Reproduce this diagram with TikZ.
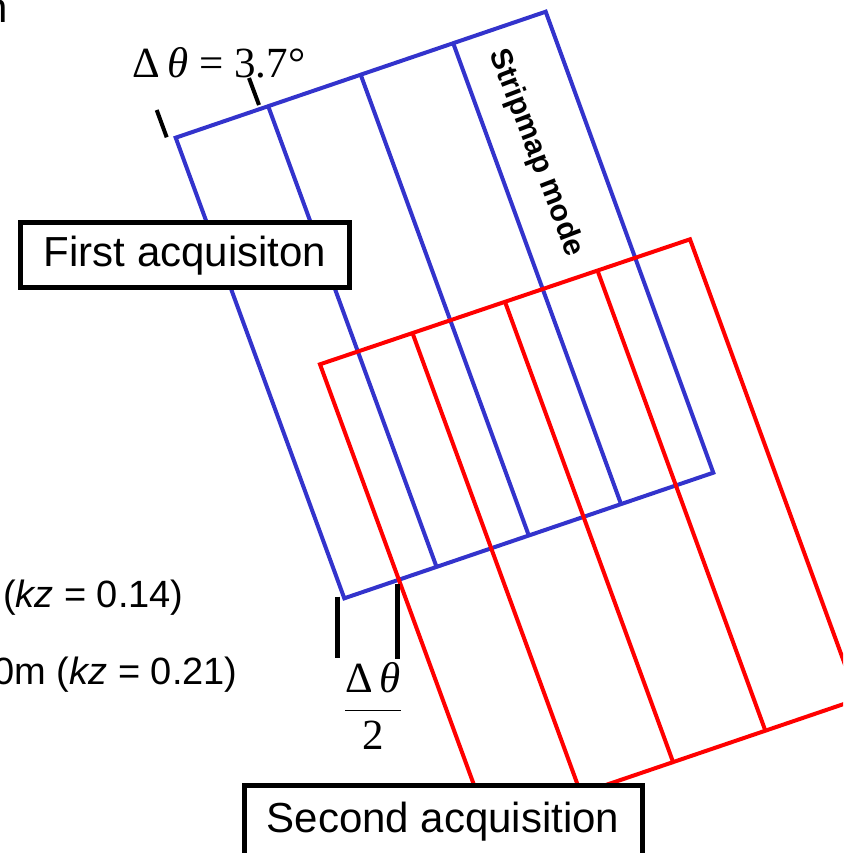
\documentclass[tikz,border=0pt]{standalone}
\usepackage{amsmath}
\usepackage{fontspec}
\setmainfont{Liberation Sans}
\newfontfamily\eqfont{Liberation Serif}
\usepackage{xcolor}
\usepackage{tikz}
\usetikzlibrary{calc}

\definecolor{stripblue}{RGB}{51,51,204}
\definecolor{stripred}{RGB}{255,0,0}

\tikzset{
  bluestrip/.style={stripblue, line width=2pt},
  redstrip/.style={stripred, line width=2pt},
  angletick/.style={black, line width=2pt},
  labelbox/.style={white, draw=black, line width=2.5pt},
  boxtext/.style={font=\fontsize{21}{25}\selectfont},
  eqtext/.style={font=\eqfont\fontsize{21.5}{25}\selectfont},
  kztext/.style={anchor=east, inner sep=0, font=\fontsize{19}{23}\selectfont},
}

\begin{document}
\begin{tikzpicture}[x=0.5pt,y=-0.5pt]
\useasboundingbox (0,0) rectangle (843,853);
\clip (0,0) rectangle (843,853);

%   first acquisition (blue)
\coordinate (b1) at (175.7,137.7);
\coordinate (b2) at (545.7,11.7);
\coordinate (b3) at (713.3,472.7);
\coordinate (b4) at (344.3,598.3);
\draw[bluestrip] (b1)--(b2)--(b3)--(b4)--cycle;
\foreach \k in {1,2,3}
  \draw[bluestrip] ($(b1)!\k/4!(b2)$)--($(b4)!\k/4!(b3)$);

%   second acquisition (red)
\coordinate (r1) at (320,364.3);
\coordinate (r2) at (690,239.3);
\coordinate (r3) at (857.6,699.3);
\coordinate (r4) at (488.6,824.9);
\draw[redstrip] (r1)--(r2)--(r3)--(r4)--cycle;
\foreach \k in {1,2,3}
  \draw[redstrip] ($(r1)!\k/4!(r2)$)--($(r4)!\k/4!(r3)$);

%   marks
\draw[angletick] (156.7,110)--(166.7,137.3);
\draw[angletick] (249,78)--(259,105);
\draw[angletick, line width=2.5pt] (337.3,596.7)--(337.3,658.3);
\draw[angletick, line width=2.5pt] (397.3,584)--(397.3,659.3);

%   labels
\node[eqtext, anchor=base] (dtheta) at (219,77) {Δ\,\textit{θ} = 3.7°};
\node[eqtext] (halfdtheta) at (373,706) {$\dfrac{\text{Δ\,\textit{θ}}}{\text{2}}$};
\node[rotate=-69, font=\bfseries\fontsize{15}{18}\selectfont] (stripmap) at (536,153) {Stripmap mode};
\node[kztext] (kzfirst) at (184,598) {(\textit{kz} = 0.14)};
\node[kztext] (kzsecond) at (238,675) {0m (\textit{kz} = 0.21)};
\node[boxtext, anchor=base west, inner sep=0] (cut) at (-16,22.7) {n};

%   boxes
\filldraw[labelbox] (20.5,222.5) rectangle (349.5,287.5);
\node[boxtext] (first) at (185,256) {First acquisiton};
\filldraw[labelbox] (244.5,785) rectangle (642.5,900);
\node[boxtext] (second) at (443,822) {Second acquisition};

\end{tikzpicture}
\end{document}
